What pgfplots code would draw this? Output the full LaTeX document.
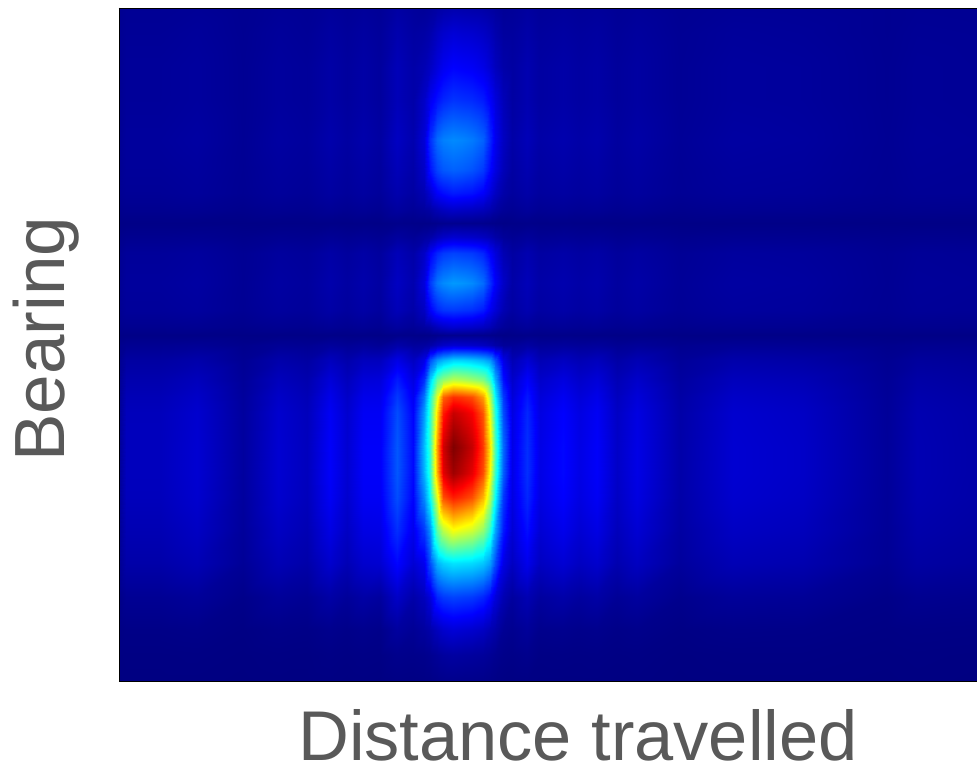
\documentclass[border=0pt]{standalone}
\usepackage{fontspec}
\setmainfont{Liberation Sans}
\usepackage{pgfplots}
\pgfplotsset{compat=1.18}
\definecolor{lab}{HTML}{595959}
\begin{document}
\begin{tikzpicture}
\useasboundingbox (0,0) rectangle (732.75pt,574.5pt);
\begin{axis}[
  at={(89.25pt,63.75pt)}, anchor=south west,
  scale only axis, width=643.5pt, height=504.75pt,
  xmin=119, xmax=977, ymin=8, ymax=681, y dir=reverse,
  view={0}{90}, xtick=\empty, ytick=\empty,
  colormap/jet, point meta min=0, point meta max=1,
  axis line style={black, line width=0.6pt},
  xlabel={Distance travelled}, ylabel={Bearing},
  xlabel style={font=\fontsize{52.8}{60}\selectfont, text=lab, at={(axis description cs:0.535,0)}, anchor=base, yshift=-59.25pt},
  ylabel style={font=\fontsize{53.3}{60}\selectfont, text=lab, at={(axis description cs:-0.063,0.508)}, anchor=base},
]
\addplot3[surf, shader=interp, mesh/cols=38, mesh/rows=29] table {
119 8 .016
126 8 .02
160 8 .02
197 8 .022
243 8 .017
278 8 .022
307 8 .02
330 8 .026
347 8 .022
363 8 .026
380 8 .022
397 8 .035
413 8 .027
424 8 .024
430 8 .028
437 8 .035
443 8 .04
453 8 .045
462 8 .043
472 8 .041
483 8 .038
490 8 .033
495 8 .028
503 8 .022
512 8 .024
527 8 .031
540 8 .024
563 8 .027
580 8 .024
597 8 .026
617 8 .021
637 8 .024
680 8 .018
733 8 .022
803 8 .021
887 8 .017
917 8 .019
977 8 .018
119 33 .017
126 33 .022
160 33 .022
197 33 .026
243 33 .018
278 33 .026
307 33 .022
330 33 .032
347 33 .026
363 33 .032
380 33 .026
397 33 .045
413 33 .033
424 33 .036
430 33 .044
437 33 .063
443 33 .075
453 33 .085
462 33 .08
472 33 .077
483 33 .068
490 33 .057
495 33 .044
503 33 .03
512 33 .029
527 33 .039
540 33 .029
563 33 .033
580 33 .029
597 33 .032
617 33 .024
637 33 .029
680 33 .02
733 33 .026
803 33 .024
887 33 .017
917 33 .021
977 33 .02
119 67 .017
126 67 .025
160 67 .025
197 67 .029
243 67 .019
278 67 .029
307 67 .025
330 67 .037
347 67 .029
363 67 .037
380 67 .029
397 67 .055
413 67 .039
424 67 .05
430 67 .065
437 67 .09
443 67 .11
453 67 .125
462 67 .12
472 67 .115
483 67 .1
490 67 .08
495 67 .06
503 67 .04
512 67 .033
527 67 .047
540 67 .033
563 67 .039
580 67 .033
597 67 .037
617 67 .027
637 67 .033
680 67 .021
733 67 .029
803 67 .027
887 67 .018
917 67 .023
977 67 .021
119 100 .017
126 100 .025
160 100 .025
197 100 .029
243 100 .019
278 100 .029
307 100 .025
330 100 .037
347 100 .029
363 100 .037
380 100 .029
397 100 .055
413 100 .039
424 100 .07
430 100 .11
437 100 .14
443 100 .16
453 100 .175
462 100 .17
472 100 .165
483 100 .15
490 100 .12
495 100 .09
503 100 .055
512 100 .033
527 100 .047
540 100 .033
563 100 .039
580 100 .033
597 100 .037
617 100 .027
637 100 .033
680 100 .021
733 100 .029
803 100 .027
887 100 .018
917 100 .023
977 100 .021
119 140 .018
126 140 .028
160 140 .028
197 140 .033
243 140 .02
278 140 .033
307 140 .028
330 140 .043
347 140 .033
363 140 .043
380 140 .033
397 140 .065
413 140 .045
424 140 .085
430 140 .17
437 140 .23
443 140 .25
453 140 .26
462 140 .255
472 140 .245
483 140 .22
490 140 .16
495 140 .11
503 140 .065
512 140 .038
527 140 .055
540 140 .038
563 140 .045
580 140 .038
597 140 .043
617 140 .03
637 140 .038
680 140 .023
733 140 .033
803 140 .03
887 140 .019
917 140 .025
977 140 .023
119 170 .017
126 170 .025
160 170 .025
197 170 .029
243 170 .019
278 170 .029
307 170 .025
330 170 .037
347 170 .029
363 170 .037
380 170 .029
397 170 .055
413 170 .039
424 170 .07
430 170 .14
437 170 .19
443 170 .21
453 170 .22
462 170 .215
472 170 .205
483 170 .18
490 170 .13
495 170 .095
503 170 .055
512 170 .033
527 170 .047
540 170 .033
563 170 .039
580 170 .033
597 170 .037
617 170 .027
637 170 .033
680 170 .021
733 170 .029
803 170 .027
887 170 .018
917 170 .023
977 170 .021
119 193 .017
126 193 .022
160 193 .022
197 193 .026
243 193 .018
278 193 .026
307 193 .022
330 193 .032
347 193 .026
363 193 .032
380 193 .026
397 193 .045
413 193 .033
424 193 .05
430 193 .08
437 193 .12
443 193 .135
453 193 .15
462 193 .145
472 193 .14
483 193 .12
490 193 .09
495 193 .065
503 193 .04
512 193 .029
527 193 .039
540 193 .029
563 193 .033
580 193 .029
597 193 .032
617 193 .024
637 193 .029
680 193 .02
733 193 .026
803 193 .024
887 193 .017
917 193 .021
977 193 .02
119 210 .011
126 210 .015
160 210 .015
197 210 .017
243 210 .012
278 210 .017
307 210 .015
330 210 .021
347 210 .017
363 210 .021
380 210 .017
397 210 .03
413 210 .022
424 210 .028
430 210 .035
437 210 .051
443 210 .061
453 210 .07
462 210 .066
472 210 .063
483 210 .056
490 210 .046
495 210 .035
503 210 .023
512 210 .019
527 210 .026
540 210 .019
563 210 .022
580 210 .019
597 210 .021
617 210 .016
637 210 .019
680 210 .013
733 210 .017
803 210 .016
887 210 .012
917 210 .014
977 210 .013
119 223 .005
126 223 .007
160 223 .007
197 223 .007
243 223 .006
278 223 .007
307 223 .007
330 223 .008
347 223 .007
363 223 .008
380 223 .007
397 223 .011
413 223 .009
424 223 .008
430 223 .009
437 223 .012
443 223 .014
453 223 .015
462 223 .014
472 223 .014
483 223 .013
490 223 .011
495 223 .009
503 223 .007
512 223 .008
527 223 .01
540 223 .008
563 223 .009
580 223 .008
597 223 .008
617 223 .007
637 223 .008
680 223 .006
733 223 .007
803 223 .007
887 223 .005
917 223 .006
977 223 .006
119 237 .011
126 237 .015
160 237 .015
197 237 .017
243 237 .012
278 237 .017
307 237 .015
330 237 .021
347 237 .017
363 237 .021
380 237 .017
397 237 .03
413 237 .022
424 237 .031
430 237 .039
437 237 .058
443 237 .07
453 237 .08
462 237 .075
472 237 .072
483 237 .063
490 237 .052
495 237 .039
503 237 .025
512 237 .019
527 237 .026
540 237 .019
563 237 .022
580 237 .019
597 237 .021
617 237 .016
637 237 .019
680 237 .013
733 237 .017
803 237 .016
887 237 .012
917 237 .014
977 237 .013
119 253 .017
126 253 .025
160 253 .025
197 253 .029
243 253 .019
278 253 .029
307 253 .025
330 253 .037
347 253 .029
363 253 .037
380 253 .029
397 253 .055
413 253 .039
424 253 .07
430 253 .12
437 253 .16
443 253 .18
453 253 .19
462 253 .185
472 253 .18
483 253 .16
490 253 .12
495 253 .09
503 253 .05
512 253 .033
527 253 .047
540 253 .033
563 253 .039
580 253 .033
597 253 .037
617 253 .027
637 253 .033
680 253 .021
733 253 .029
803 253 .027
887 253 .018
917 253 .023
977 253 .021
119 283 .018
126 283 .028
160 283 .028
197 283 .033
243 283 .02
278 283 .033
307 283 .028
330 283 .043
347 283 .033
363 283 .043
380 283 .033
397 283 .065
413 283 .045
424 283 .09
430 283 .18
437 283 .24
443 283 .26
453 283 .275
462 283 .27
472 283 .26
483 283 .23
490 283 .17
495 283 .12
503 283 .07
512 283 .038
527 283 .055
540 283 .038
563 283 .045
580 283 .038
597 283 .043
617 283 .03
637 283 .038
680 283 .023
733 283 .033
803 283 .03
887 283 .019
917 283 .025
977 283 .023
119 310 .017
126 310 .025
160 310 .025
197 310 .029
243 310 .019
278 310 .029
307 310 .025
330 310 .037
347 310 .029
363 310 .037
380 310 .029
397 310 .055
413 310 .039
424 310 .065
430 310 .12
437 310 .16
443 310 .175
453 310 .18
462 310 .175
472 310 .17
483 310 .15
490 310 .11
495 310 .085
503 310 .05
512 310 .033
527 310 .047
540 310 .033
563 310 .039
580 310 .033
597 310 .037
617 310 .027
637 310 .033
680 310 .021
733 310 .029
803 310 .027
887 310 .018
917 310 .023
977 310 .021
119 327 .011
126 327 .015
160 327 .015
197 327 .017
243 327 .012
278 327 .017
307 327 .015
330 327 .021
347 327 .017
363 327 .021
380 327 .017
397 327 .03
413 327 .022
424 327 .031
430 327 .039
437 327 .058
443 327 .07
453 327 .08
462 327 .075
472 327 .072
483 327 .063
490 327 .052
495 327 .039
503 327 .025
512 327 .019
527 327 .026
540 327 .019
563 327 .022
580 327 .019
597 327 .021
617 327 .016
637 327 .019
680 327 .013
733 327 .017
803 327 .016
887 327 .012
917 327 .014
977 327 .013
119 335 .005
126 335 .007
160 335 .007
197 335 .007
243 335 .006
278 335 .007
307 335 .007
330 335 .008
347 335 .007
363 335 .008
380 335 .007
397 335 .011
413 335 .009
424 335 .008
430 335 .009
437 335 .012
443 335 .014
453 335 .015
462 335 .014
472 335 .014
483 335 .013
490 335 .011
495 335 .009
503 335 .007
512 335 .008
527 335 .01
540 335 .008
563 335 .009
580 335 .008
597 335 .008
617 335 .007
637 335 .008
680 335 .006
733 335 .007
803 335 .007
887 335 .005
917 335 .006
977 335 .006
119 345 .012
126 345 .018
160 345 .018
197 345 .021
243 345 .013
278 345 .021
307 345 .018
330 345 .027
347 345 .021
363 345 .027
380 345 .021
397 345 .04
413 345 .028
424 345 .031
430 345 .039
437 345 .058
443 345 .07
453 345 .08
462 345 .075
472 345 .072
483 345 .063
490 345 .052
495 345 .039
503 345 .025
512 345 .024
527 345 .034
540 345 .024
563 345 .028
580 345 .024
597 345 .027
617 345 .019
637 345 .024
680 345 .015
733 345 .021
803 345 .019
887 345 .012
917 345 .016
977 345 .015
119 360 .015
126 360 .033
160 360 .033
197 360 .042
243 360 .019
278 360 .042
307 360 .033
330 360 .06
347 360 .042
363 360 .06
380 360 .06
397 360 .1
413 360 .064
424 360 .1
430 360 .2
437 360 .27
443 360 .3
453 360 .33
462 360 .33
472 360 .32
483 360 .3
490 360 .27
495 360 .2
503 360 .1
512 360 .051
527 360 .082
540 360 .051
563 360 .064
580 360 .051
597 360 .06
617 360 .037
637 360 .051
680 360 .024
733 360 .042
803 360 .037
887 360 .017
917 360 .028
977 360 .024
119 380 .017
126 380 .045
160 380 .045
197 380 .059
243 380 .024
278 380 .059
307 380 .045
330 380 .087
347 380 .059
363 380 .087
380 380 .09
397 380 .15
413 380 .094
424 380 .17
430 380 .33
437 380 .47
443 380 .52
453 380 .56
462 380 .55
472 380 .53
483 380 .5
490 380 .42
495 380 .3
503 380 .14
512 380 .073
527 380 .122
540 380 .073
563 380 .094
580 380 .073
597 380 .087
617 380 .052
637 380 .073
680 380 .031
733 380 .059
803 380 .052
887 380 .021
917 380 .038
977 380 .031
119 397 .019
126 397 .053
160 397 .053
197 397 .07
243 397 .027
278 397 .07
307 397 .053
330 397 .104
347 397 .07
363 397 .104
380 397 .105
397 397 .18
413 397 .112
424 397 .24
430 397 .4
437 397 .6
443 397 .78
453 397 .83
462 397 .82
472 397 .8
483 397 .72
490 397 .55
495 397 .37
503 397 .18
512 397 .087
527 397 .146
540 397 .087
563 397 .112
580 397 .087
597 397 .104
617 397 .061
637 397 .087
680 397 .036
733 397 .07
803 397 .061
887 397 .023
917 397 .044
977 397 .036
119 413 .02
126 413 .058
160 413 .058
197 413 .077
243 413 .029
278 413 .077
307 413 .058
330 413 .115
347 413 .077
363 413 .115
380 413 .115
397 413 .2
413 413 .124
424 413 .28
430 413 .42
437 413 .66
443 413 .85
453 413 .93
462 413 .91
472 413 .88
483 413 .79
490 413 .6
495 413 .41
503 413 .2
512 413 .096
527 413 .162
540 413 .096
563 413 .124
580 413 .096
597 413 .115
617 413 .067
637 413 .096
680 413 .039
733 413 .077
803 413 .067
887 413 .024
917 413 .048
977 413 .039
119 447 .02
126 447 .06
160 447 .06
197 447 .08
243 447 .03
278 447 .08
307 447 .06
330 447 .12
347 447 .08
363 447 .12
380 447 .12
397 447 .21
413 447 .13
424 447 .31
430 447 .43
437 447 .72
443 447 .92
453 447 1
462 447 .97
472 447 .93
483 447 .82
490 447 .65
495 447 .45
503 447 .23
512 447 .1
527 447 .17
540 447 .1
563 447 .13
580 447 .1
597 447 .12
617 447 .07
637 447 .1
680 447 .04
733 447 .08
803 447 .07
887 447 .025
917 447 .05
977 447 .04
119 473 .02
126 473 .06
160 473 .06
197 473 .08
243 473 .03
278 473 .08
307 473 .06
330 473 .12
347 473 .08
363 473 .12
380 473 .12
397 473 .21
413 473 .13
424 473 .3
430 473 .42
437 473 .7
443 473 .9
453 473 .97
462 473 .94
472 473 .9
483 473 .8
490 473 .62
495 473 .43
503 473 .22
512 473 .1
527 473 .17
540 473 .1
563 473 .13
580 473 .1
597 473 .12
617 473 .07
637 473 .1
680 473 .04
733 473 .08
803 473 .07
887 473 .025
917 473 .05
977 473 .04
119 497 .02
126 497 .058
160 497 .058
197 497 .077
243 497 .029
278 497 .077
307 497 .058
330 497 .115
347 497 .077
363 497 .115
380 497 .115
397 497 .2
413 497 .124
424 497 .26
430 497 .38
437 497 .6
443 497 .8
453 497 .85
462 497 .83
472 497 .8
483 497 .7
490 497 .55
495 497 .38
503 497 .18
512 497 .096
527 497 .162
540 497 .096
563 497 .124
580 497 .096
597 497 .115
617 497 .067
637 497 .096
680 497 .039
733 497 .077
803 497 .067
887 497 .024
917 497 .048
977 497 .039
119 530 .018
126 530 .05
160 530 .05
197 530 .066
243 530 .026
278 530 .066
307 530 .05
330 530 .098
347 530 .066
363 530 .098
380 530 .1
397 530 .17
413 530 .106
424 530 .18
430 530 .27
437 530 .47
443 530 .56
453 530 .62
462 530 .6
472 530 .58
483 530 .52
490 530 .42
495 530 .29
503 530 .15
512 530 .082
527 530 .138
540 530 .082
563 530 .106
580 530 .082
597 530 .098
617 530 .058
637 530 .082
680 530 .034
733 530 .066
803 530 .058
887 530 .022
917 530 .042
977 530 .034
119 563 .016
126 563 .04
160 563 .04
197 563 .052
243 563 .022
278 563 .052
307 563 .04
330 563 .076
347 563 .052
363 563 .076
380 563 .08
397 563 .13
413 563 .082
424 563 .11
430 563 .2
437 563 .3
443 563 .33
453 563 .35
462 563 .345
472 563 .34
483 563 .32
490 563 .28
495 563 .2
503 563 .1
512 563 .064
527 563 .106
540 563 .064
563 563 .082
580 563 .064
597 563 .076
617 563 .046
637 563 .064
680 563 .028
733 563 .052
803 563 .046
887 563 .019
917 563 .034
977 563 .028
119 597 .007
126 597 .019
160 597 .019
197 597 .025
243 597 .01
278 597 .025
307 597 .019
330 597 .037
347 597 .025
363 597 .037
380 597 .03
397 597 .07
413 597 .04
424 597 .06
430 597 .09
437 597 .16
443 597 .18
453 597 .19
462 597 .185
472 597 .18
483 597 .16
490 597 .13
495 597 .09
503 597 .05
512 597 .03
527 597 .05
540 597 .03
563 597 .04
580 597 .03
597 597 .037
617 597 .022
637 597 .03
680 597 .013
733 597 .025
803 597 .022
887 597 .008
917 597 .016
977 597 .013
119 630 .003
126 630 .007
160 630 .007
197 630 .009
243 630 .004
278 630 .009
307 630 .007
330 630 .013
347 630 .009
363 630 .013
380 630 .01
397 630 .03
413 630 .02
424 630 .03
430 630 .04
437 630 .06
443 630 .075
453 630 .085
462 630 .08
472 630 .075
483 630 .065
490 630 .05
495 630 .04
503 630 .02
512 630 .015
527 630 .025
540 630 .012
563 630 .014
580 630 .011
597 630 .013
617 630 .008
637 630 .011
680 630 .005
733 630 .009
803 630 .008
887 630 .004
917 630 .006
977 630 .005
119 655 .002
126 655 .003
160 655 .003
197 655 .004
243 655 .002
278 655 .004
307 655 .003
330 655 .006
347 655 .004
363 655 .006
380 655 .005
397 655 .012
413 655 .01
424 655 .012
430 655 .016
437 655 .023
443 655 .029
453 655 .033
462 655 .031
472 655 .029
483 655 .026
490 655 .021
495 655 .016
503 655 .01
512 655 .008
527 655 .012
540 655 .005
563 655 .006
580 655 .005
597 655 .006
617 655 .004
637 655 .005
680 655 .002
733 655 .004
803 655 .004
887 655 .002
917 655 .003
977 655 .002
119 681 .001
126 681 .002
160 681 .002
197 681 .002
243 681 .001
278 681 .002
307 681 .002
330 681 .003
347 681 .002
363 681 .003
380 681 .002
397 681 .005
413 681 .004
424 681 .005
430 681 .006
437 681 .009
443 681 .011
453 681 .012
462 681 .011
472 681 .011
483 681 .01
490 681 .008
495 681 .006
503 681 .004
512 681 .003
527 681 .004
540 681 .003
563 681 .003
580 681 .003
597 681 .003
617 681 .002
637 681 .003
680 681 .001
733 681 .002
803 681 .002
887 681 .001
917 681 .002
977 681 .001
};
\end{axis}
\end{tikzpicture}
\end{document}
